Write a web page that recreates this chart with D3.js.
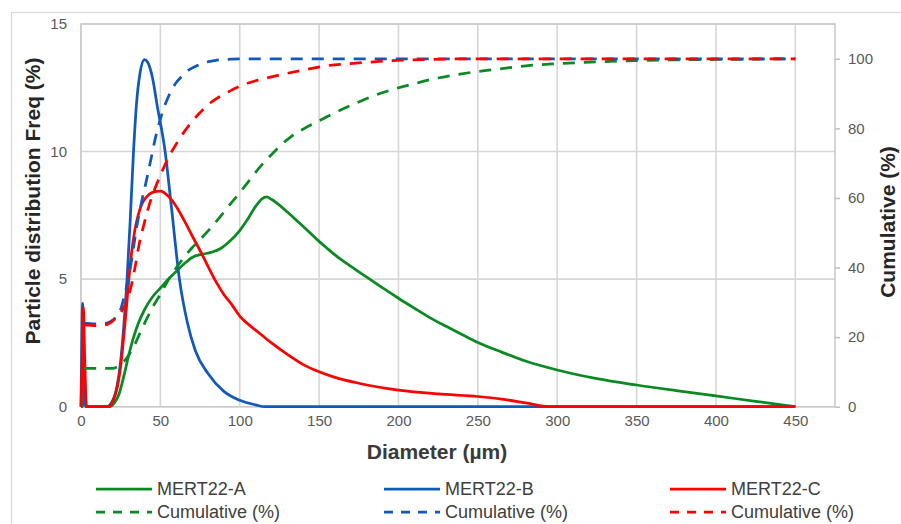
<!DOCTYPE html>
<html>
<head>
<meta charset="utf-8">
<script src="https://cdn.jsdelivr.net/npm/d3@7"></script>
<style>
  html, body { margin: 0; padding: 0; background: #fff; }
  svg { display: block; font-family: "Liberation Sans", Arial, sans-serif; }
</style>
</head>
<body>
<svg id="chart" width="901" height="524"></svg>
<script>
// Particle size distribution (frequency, %) per sample: [diameter µm, freq %]
const freqA = [
  [0,0],[1,0],[2,1.2],[3,0],[18,0],[21,0.15],[24,0.5],[27,1.2],[30,2.0],[33,2.7],[36,3.25],
  [40,3.8],[45,4.3],[50,4.65],[55,5.0],[60,5.3],[65,5.6],[70,5.85],[76,5.97],[82,6.05],
  [88,6.2],[94,6.5],[100,6.9],[105,7.35],[110,7.85],[114,8.15],[117,8.22],[120,8.13],
  [125,7.9],[130,7.63],[135,7.35],[140,7.06],[145,6.77],[150,6.48],[155,6.21],[160,5.95],
  [170,5.5],[180,5.08],[190,4.66],[200,4.25],[210,3.86],[220,3.48],[230,3.15],[240,2.83],
  [250,2.52],[265,2.14],[280,1.79],[300,1.44],[325,1.1],[350,0.85],[375,0.63],[400,0.42],
  [425,0.21],[450,0]
];
const freqB = [
  [0,0],[0.4,2.2],[1,4.05],[1.8,2.0],[3,0],[16,0],[20,0.25],[23,0.9],[25,1.8],[27,3.2],
  [29,5.0],[31,7.3],[33,9.9],[35,11.9],[37,13.0],[40,13.6],[42,13.5],[45,12.9],[48,11.8],
  [53,10.0],[57,7.8],[62,5.0],[67,3.3],[72,2.2],[80,1.3],[90,0.6],[100,0.25],[110,0.07],
  [116,0],[450,0]
];
const freqC = [
  [0,0],[0.8,2.0],[1.5,3.9],[2.3,2.0],[3.5,0],[17,0],[20,0.2],[23,0.8],[25,1.6],[27,2.8],
  [28.5,3.8],[30,4.9],[32,6.1],[34,6.95],[36,7.5],[38,7.9],[41,8.2],[45,8.4],[50,8.45],
  [55,8.25],[60,7.85],[65,7.3],[70,6.7],[76,6.0],[80,5.5],[85,4.9],[90,4.4],[95,4.0],
  [100,3.55],[105,3.25],[110,3.0],[115,2.75],[120,2.5],[130,2.05],[140,1.65],[150,1.37],
  [160,1.15],[175,0.92],[200,0.65],[225,0.5],[250,0.4],[265,0.3],[280,0.15],[295,0],[450,0]
];

// Cumulative (%) per sample: [diameter µm, cumulative %]
const cumA = [
  [2,11],[10,11],[20,11],[23,11.5],[26,12.5],[30,14.8],[34,18],[38,22],[42,25.8],[46,29.3],
  [50,32.3],[55,36.4],[60,39.9],[65,43],[70,45.7],[76,48.5],[82,51.5],[88,54.8],[94,58.2],
  [100,61.5],[106,65],[112,68.5],[118,71.5],[125,74.8],[132,77.5],[140,79.8],[148,81.7],
  [160,84.5],[173,87.2],[185,89.5],[199,91.5],[212,93.1],[224,94.4],[236,95.4],[249,96.3],
  [264,97.1],[283,98.1],[300,98.6],[325,99.1],[350,99.5],[375,99.7],[400,99.8],[425,99.9],[450,100]
];
const cumB = [
  [2,24],[10,23.8],[16,24],[19,24.6],[22,25.8],[25,28],[27.7,32.6],[30,37],[32.5,44],
  [35.1,51.7],[38,58.5],[41.3,65.2],[44,71],[46.6,76.7],[49,81],[51.8,85.3],[54.5,88.5],
  [57.1,91.0],[60,93.2],[63.4,94.9],[67,96.5],[71.7,97.7],[78,98.9],[84.3,99.5],[95,99.9],
  [110,100],[450,100]
];
const cumC = [
  [2,23.5],[10,23.3],[15,23.5],[18,24],[22,25.5],[25,27],[28,29.5],[31,33.5],[34,40],
  [37,47.5],[40,53],[43,58],[46,62],[50,66.5],[55,71.5],[60,75.5],[65,79],[70,82],[76,85],
  [82,87.5],[88,89.3],[95,91],[101,92.3],[110,93.7],[120,94.8],[135,96.3],[155,98],
  [175,98.8],[190,99.3],[220,99.8],[250,100],[450,100]
];

// Axis ticks
const xTicks = [0, 50, 100, 150, 200, 250, 300, 350, 400, 450];
const yLeftTicks = [0, 5, 10, 15];
const yRightTicks = [0, 20, 40, 60, 80, 100];

// Legend entries
const seriesNames = ["MERT22-A", "MERT22-B", "MERT22-C"];
const cumulativeName = "Cumulative (%)";
const seriesColors = ["#0a8a23", "#1059bd", "#ff0000"];

const svg = d3.select("#chart");
const W = 901, H = 524;
const plot = { left: 81, top: 24, right: 835, bottom: 406.7 };

const x = d3.scaleLinear().domain([0, 475]).range([plot.left, plot.right]);
const yL = d3.scaleLinear().domain([0, 15]).range([plot.bottom, plot.top]);
const yR = d3.scaleLinear().domain([0, 110]).range([plot.bottom, plot.top]);

// Outer chart frame
svg.append("rect")
  .attr("x", 11.5).attr("y", 12.5)
  .attr("width", W).attr("height", H)
  .attr("fill", "#fff").attr("stroke", "#d9d9d9").attr("stroke-width", 1.25);

// Gridlines
const grid = svg.append("g").attr("stroke", "#d6d6d6").attr("stroke-width", 1.6);
grid.selectAll("line.v").data(xTicks).join("line")
  .attr("x1", d => x(d)).attr("x2", d => x(d))
  .attr("y1", plot.top).attr("y2", plot.bottom);
grid.selectAll("line.h").data(yLeftTicks).join("line")
  .attr("x1", plot.left).attr("x2", plot.right)
  .attr("y1", d => yL(d)).attr("y2", d => yL(d));

// Plot area border
svg.append("rect")
  .attr("x", plot.left).attr("y", plot.top)
  .attr("width", plot.right - plot.left).attr("height", plot.bottom - plot.top)
  .attr("fill", "none").attr("stroke", "#c9c9c9").attr("stroke-width", 1.5);

// Axes
const tickFont = 15, tickColor = "#595959";

const xAxis = svg.append("g")
  .attr("transform", `translate(0,${plot.bottom})`)
  .call(d3.axisBottom(x).tickValues(xTicks).tickSize(0).tickPadding(16));
const yAxisL = svg.append("g")
  .attr("transform", `translate(${plot.left},0)`)
  .call(d3.axisLeft(yL).tickValues(yLeftTicks).tickSize(0).tickPadding(14));
const yAxisR = svg.append("g")
  .attr("transform", `translate(${plot.right},0)`)
  .call(d3.axisRight(yR).tickValues(yRightTicks).tickSize(5).tickPadding(8));

[xAxis, yAxisL, yAxisR].forEach(g => {
  g.select(".domain").remove();
  g.selectAll("text").attr("font-size", tickFont).attr("fill", tickColor)
    .attr("font-family", "'Liberation Sans', Arial, sans-serif");
  g.selectAll("line").attr("stroke", "#bfbfbf").attr("stroke-width", 1.5);
});
xAxis.selectAll("text").attr("dy", "0.2em");

// Axis titles
const titleFont = 21, titleColor = "#262626";
svg.append("text")
  .attr("x", 437).attr("y", 459)
  .attr("text-anchor", "middle")
  .attr("font-size", titleFont).attr("font-weight", "bold").attr("fill", "#3a3a3a")
  .text("Diameter (µm)");
svg.append("text")
  .attr("transform", "translate(40,201) rotate(-90)")
  .attr("text-anchor", "middle")
  .attr("font-size", titleFont).attr("font-weight", "bold").attr("fill", titleColor)
  .text("Particle distribution Freq (%)");
svg.append("text")
  .attr("transform", "translate(895,222) rotate(-90)")
  .attr("text-anchor", "middle")
  .attr("font-size", titleFont).attr("font-weight", "bold").attr("fill", titleColor)
  .text("Cumulative (%)");

// Series lines
const lineL = d3.line().x(d => x(d[0])).y(d => yL(d[1])).curve(d3.curveMonotoneX);
const lineR = d3.line().x(d => x(d[0])).y(d => yR(d[1])).curve(d3.curveMonotoneX);
const strokeW = 2.75;
const dash = "12,9";

const lines = svg.append("g").attr("fill", "none")
  .attr("stroke-linejoin", "round");

[freqA, freqB, freqC].forEach((s, i) => {
  lines.append("path").datum(s)
    .attr("d", lineL)
    .attr("stroke", seriesColors[i]).attr("stroke-width", strokeW);
});
[cumA, cumB, cumC].forEach((s, i) => {
  lines.append("path").datum(s)
    .attr("d", lineR)
    .attr("stroke", seriesColors[i]).attr("stroke-width", strokeW)
    .attr("stroke-dasharray", dash);
});

// Legend: two rows (sample line, cumulative line), three columns
const legendX = [96, 384, 670];
const legendRows = [489, 512];
const legend = svg.append("g");
seriesNames.forEach((name, i) => {
  const gx = legendX[i];
  legendRows.forEach((ry, r) => {
    legend.append("line")
      .attr("x1", gx).attr("x2", gx + 56)
      .attr("y1", ry).attr("y2", ry)
      .attr("stroke", seriesColors[i]).attr("stroke-width", strokeW)
      .attr("stroke-dasharray", r === 1 ? "9,8" : null);
    legend.append("text")
      .attr("x", gx + 61).attr("y", ry)
      .attr("dy", "0.35em")
      .attr("font-size", 18).attr("fill", "#404040")
      .text(r === 0 ? name : cumulativeName);
  });
});
</script>
</body>
</html>
